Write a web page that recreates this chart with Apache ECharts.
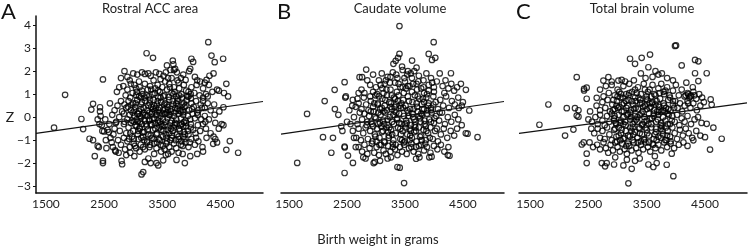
<!DOCTYPE html>
<html>
<head>
<meta charset="utf-8">
<script src="https://cdn.jsdelivr.net/npm/echarts@6/dist/echarts.min.js"></script>
<style>
  html, body { margin: 0; padding: 0; background: #fff; }
  #chart { width: 749px; height: 249px; }
</style>
</head>
<body>
<div id="chart"></div>
<script>
// panel texts
const panelLetters = ['A', 'B', 'C'];
const panelTitles = ['Rostral ACC area', 'Caudate volume', 'Total brain volume'];
const xTicks = [1500, 2500, 3500, 4500];
const yTicks = [-3, -2, -1, 0, 1, 2, 3, 4];

// birth weight (g), Z score
const rostralPoints = [
  [3230,2.78],[3340,2.58],[4290,3.26],[4345,2.68],[4400,2.39],[4545,2.54],[4000,2.54],[4030,2.4],[3680,2.46],[3690,2.3],[3580,2.25],
  [2850,2.0],[3000,1.9],[3070,1.85],[3150,1.95],[3200,1.88],[3260,1.9],[3300,1.8],[3390,1.95],[3450,1.88],[3520,1.8],[3600,1.7],[3640,2.05],
  [3700,2.05],[3720,2.1],[3750,1.95],[3820,1.7],[3900,1.62],[3960,2.0],[3980,2.1],[4100,1.6],[4150,1.55],[4230,1.5],[4260,1.62],[4380,1.9],
  [4440,1.2],[4310,1.8],[2480,1.64],[2940,1.6],[3100,1.55],[3350,1.6],[3550,1.55],[3780,1.5],[2790,1.7],[2900,1.75],
  [1830,0.97],[2720,1.1],[2760,1.3],[2830,1.35],[2900,1.2],[2960,1.45],[3020,1.4],[3060,1.1],[3110,1.3],[3160,1.0],[3200,1.45],[3250,1.2],
  [3290,1.35],[3330,1.0],[3380,1.25],[3420,1.4],[3460,1.1],[3500,1.3],[3540,0.95],[3580,1.2],[3620,1.45],[3660,1.05],[3700,1.3],[3740,0.9],
  [3790,1.25],[3830,1.0],[3870,1.4],[3910,1.15],[3950,0.9],[4000,1.3],[4050,1.05],[4090,1.4],[4140,0.95],[4200,1.25],[4250,1.0],[4300,1.4],
  [4360,1.1],[4470,1.15],[4560,1.05],[4600,1.45],[4630,0.9],[2950,0.85],[3130,0.85],[3270,0.9],[3430,0.85],[3610,0.88],[3770,0.8],[3990,0.82],
  [4200,0.85],[2870,0.95],[3050,0.95],
  [2280,0.33],[2310,0.58],[2430,0.43],[2430,0.25],[2600,0.6],[2680,0.3],[2730,0.5],[2790,0.7],[2810,0.25],[2850,0.55],[2880,0.4],[2920,0.7],
  [2960,0.3],[3000,0.6],[3030,0.45],[3070,0.75],[3100,0.25],[3140,0.55],[3180,0.4],[3210,0.7],[3240,0.3],[3280,0.6],[3310,0.45],[3350,0.75],
  [3380,0.25],[3410,0.55],[3450,0.4],[3480,0.65],[3510,0.3],[3550,0.6],[3590,0.45],[3620,0.75],[3650,0.25],[3690,0.55],[3720,0.4],[3760,0.7],
  [3800,0.3],[3840,0.55],[3880,0.45],[3920,0.75],[3960,0.3],[4000,0.6],[4040,0.45],[4080,0.7],[4120,0.3],[4160,0.55],[4200,0.7],[4230,0.4],
  [4280,0.6],[4330,0.3],[4390,0.55],[4550,0.43],[4480,0.25],[2990,0.2],[3330,0.22],[3570,0.2],[3860,0.22],[4100,0.2],
  [2110,-0.08],[2440,0.05],[2390,-0.1],[2520,-0.1],[2640,0.1],[2710,-0.2],[2760,0.0],[2840,0.15],[2900,-0.1],[2940,0.1],[2980,-0.15],[3020,0.05],
  [3060,-0.1],[3090,0.15],[3130,-0.05],[3170,0.1],[3200,-0.15],[3240,0.05],[3280,-0.1],[3320,0.15],[3360,-0.05],[3400,0.1],[3430,-0.15],[3470,0.05],
  [3510,-0.1],[3550,0.15],[3590,-0.05],[3630,0.1],[3660,-0.15],[3700,0.05],[3740,-0.1],[3780,0.15],[3820,-0.05],[3860,0.1],[3900,-0.15],[3940,0.05],
  [3980,-0.1],[4020,0.15],[4060,-0.05],[4110,0.1],[4170,-0.1],[4230,0.05],[4300,-0.1],[4400,0.1],[4520,-0.3],[4550,-0.35],[2850,-0.2],
  [1640,-0.46],[2140,-0.52],[2420,-0.3],[2460,-0.35],[2470,-0.6],[2500,-0.62],[2560,-0.55],[2580,-0.65],[2590,-0.3],[2660,-0.75],[2680,-0.5],
  [2770,-0.6],[2840,-0.3],[2880,-0.7],[2920,-0.45],[2960,-0.25],[3000,-0.6],[3040,-0.35],[3080,-0.75],[3110,-0.5],[3150,-0.3],[3190,-0.65],
  [3230,-0.4],[3260,-0.75],[3300,-0.3],[3340,-0.55],[3370,-0.25],[3410,-0.7],[3440,-0.45],[3480,-0.3],[3520,-0.6],[3560,-0.75],[3600,-0.4],
  [3640,-0.25],[3680,-0.6],[3710,-0.35],[3750,-0.75],[3790,-0.5],[3830,-0.3],[3870,-0.65],[3910,-0.4],[3950,-0.75],[3990,-0.3],[4030,-0.55],
  [4070,-0.7],[4110,-0.35],[4150,-0.6],[4200,-0.3],[4250,-0.5],[4330,-0.7],[4410,-0.25],[4470,-0.5],[2700,-0.25],[3120,-0.2],[3460,-0.2],[3870,-0.22],
  [2250,-0.94],[2310,-1.0],[2390,-1.25],[2410,-1.3],[2530,-1.0],[2540,-1.35],[2610,-0.9],[2630,-1.1],[2650,-1.3],[2740,-1.0],[2790,-1.2],[2840,-0.9],
  [2860,-1.4],[2900,-1.05],[2940,-1.3],[2980,-0.85],[3010,-1.15],[3050,-1.35],[3090,-0.95],[3130,-1.2],[3170,-0.85],[3200,-1.4],[3240,-1.05],
  [3280,-1.3],[3320,-0.9],[3360,-1.15],[3400,-1.35],[3440,-0.95],[3470,-1.2],[3510,-0.85],[3540,-1.4],[3580,-1.05],[3620,-1.3],[3660,-0.9],
  [3700,-1.15],[3740,-1.35],[3780,-0.95],[3820,-1.2],[3860,-0.85],[3900,-1.1],[3950,-1.3],[4000,-0.95],[4060,-1.2],[4120,-1.05],[4190,-1.3],
  [4260,-0.9],[4374,-1.16],[4410,-0.95],[4440,-1.1],[4600,-1.42],[4660,-1.04],[4380,-0.85],
  [2340,-1.7],[2480,-1.9],[2480,-2.0],[2690,-1.45],[2700,-1.5],[2750,-1.55],[2800,-1.9],[2810,-2.05],[2880,-1.65],[2950,-1.55],[3020,-1.7],
  [3110,-1.5],[3143,-2.49],[3172,-2.39],[3200,-1.95],[3260,-1.8],[3300,-2.0],[3360,-1.6],[3400,-2.0],[3430,-2.1],[3480,-1.5],[3515,-1.88],
  [3600,-1.6],[3660,-1.5],[3744,-1.86],[3780,-1.55],[3887,-2.0],[3850,-1.6],[3980,-1.7],[4100,-1.6],[4200,-1.5],[4803,-1.55],[3560,-1.65],
  [3020,0.3],[3060,-0.4],[3100,0.9],[3140,-0.9],[3180,0.2],[3220,-0.3],[3260,0.5],[3300,-0.8],[3340,0.35],[3380,-0.5],[3420,0.7],[3460,-1.0],
  [3500,0.15],[3540,-0.35],[3580,0.55],[3620,-0.7],[3660,0.35],[3700,-0.45],[3740,0.6],[3780,-0.85],[3820,0.25],[3860,-0.4],[3900,0.5],[3940,-0.6],
  [3040,0.6],[3080,-0.2],[3120,0.05],[3160,-0.65],[3200,0.85],[3240,-1.1],[3280,0.2],[3320,-0.35],[3360,0.5],[3400,-0.75],[3440,0.3],[3480,-0.55],
  [3520,0.9],[3560,-0.2],[3600,0.3],[3640,-1.0],[3680,0.7],[3720,-0.25],[3760,0.35],[3800,-0.6],[3840,0.85],[3880,-0.95],
  [3010,-0.95],[3150,1.15],[3290,-1.2],[3430,1.15],[3570,-1.15],[3710,1.1],[3850,-1.25],[3990,1.0],[4080,-0.9],[4180,0.4],[4240,-0.2],[4280,0.9],
  [2910,0.45],[2950,-0.7],[2990,1.05],[3030,-1.25],[3070,0.15],[3110,-0.45],[3150,0.65],[3190,-1.0],[3230,0.95],[3270,-0.15],[3310,1.2],[3350,-0.95],
  [3390,0.4],[3430,-0.25],[3470,0.85],[3510,-1.25],[3550,0.35],[3590,-0.55],[3630,1.3],[3670,-0.8],[3710,0.2],[3750,-0.3],[3790,0.95],[3830,-1.05],
  [3870,0.6],[3910,-0.25],[3950,1.1],[3990,-0.45],[2930,-0.95],[2970,0.55],[3010,-0.2],[3050,1.25],[3090,-0.6],[3130,0.35],[3170,-1.3],[3210,0.1],
  [3250,-0.55],[3290,0.75],[3330,-0.1],[3370,1.05],[3410,-1.1],[3450,0.2],[3490,-0.4],[3530,0.55],[3570,-0.9],[3610,0.1],[3650,-0.5],[3690,1.0],
  [3730,-1.0],[3770,0.5],[3810,-0.35],[3850,0.3],[3890,-0.75],[3930,0.9],[3970,-1.1],[4010,0.35],
  [3660,1.7],[3560,1.95],[3470,1.65],[3760,1.6],[3860,1.85],[4060,1.75]
];

const caudatePoints = [
  [1810,0.14],[1640,-1.99],[2085,-0.87],[2114,0.7],[2229,-1.55],[2257,-0.9],[2286,1.19],[2290,0.35],[2350,0.1],[2400,-0.4],[2420,-0.6],
  [2458,1.52],[2458,-1.28],[2460,-1.32],[2458,-2.43],[2470,0.85],[2480,0.9],[2500,-0.2],[2516,-1.67],[2540,0.3],[2560,-0.3],[2590,0.5],
  [2602,-1.99],[2620,-0.9],[2650,-1.3],[2680,0.8],[2716,1.74],[2760,1.74],[2831,2.07],[3301,2.32],[3340,2.45],[3405,2.75],[3380,2.58],
  [3405,3.96],[3623,2.46],[3550,2.0],[3910,2.75],[3967,2.49],[3996,3.26],[4024,2.58],[4294,1.91],[4466,1.45],[4552,1.19],[4581,-0.72],
  [4550,-0.7],[4610,0.29],[4753,-0.87],[3485,-2.87],[3370,-2.17],[3410,-2.2],[3692,-1.81],[3750,-1.75],[3920,-1.75],[3960,-1.72],
  [4240,-1.65],[4270,-1.68],[3070,-1.9],[2980,-1.95],[2960,-2.0],[2820,-1.8],[2780,-1.75],[3200,-1.8],[3260,-1.75],
  [2850,1.6],[2900,1.4],[2950,1.85],[3000,1.3],[3050,1.6],[3100,1.9],[3150,1.45],[3200,1.75],[3250,1.2],[3290,1.95],[3330,1.5],[3370,1.7],
  [3420,1.3],[3460,2.05],[3500,1.55],[3540,1.85],[3580,1.35],[3620,1.7],[3660,2.0],[3700,1.45],[3740,1.8],[3780,1.25],[3820,1.6],[3870,1.9],
  [3910,1.4],[3950,1.7],[4000,1.3],[4050,1.55],[4100,1.9],[4150,1.35],[4200,1.6],[4250,1.25],[4300,1.45],[4350,1.15],[4400,1.3],[2750,1.2],
  [2700,1.05],[2800,1.05],[3130,1.05],[3480,1.05],[3830,1.05],[4180,1.05],
  [2600,0.75],[2650,0.45],[2700,0.6],[2750,0.35],[2790,0.85],[2830,0.55],[2870,0.3],[2910,0.7],[2950,0.45],[2990,0.95],[3030,0.6],[3070,0.35],
  [3110,0.8],[3150,0.5],[3190,0.95],[3230,0.65],[3270,0.35],[3310,0.85],[3350,0.55],[3390,0.95],[3430,0.4],[3470,0.75],[3510,0.5],[3550,0.9],
  [3590,0.35],[3630,0.65],[3670,0.95],[3710,0.45],[3750,0.8],[3790,0.55],[3830,0.35],[3870,0.85],[3910,0.6],[3950,0.4],[3990,0.9],[4030,0.65],
  [4070,0.35],[4110,0.75],[4160,0.5],[4210,0.9],[4260,0.4],[4310,0.7],[4360,0.55],[4420,0.85],[4480,0.5],[4430,0.4],[4500,0.65],
  [2620,0.0],[2680,-0.3],[2720,0.2],[2760,-0.1],[2800,0.15],[2840,-0.35],[2880,0.05],[2920,-0.2],[2960,0.25],[3000,-0.05],[3040,-0.3],[3080,0.1],
  [3120,-0.15],[3160,0.2],[3200,-0.35],[3240,0.0],[3280,-0.2],[3320,0.25],[3360,-0.1],[3400,0.15],[3440,-0.3],[3480,0.05],[3520,-0.15],[3560,0.2],
  [3600,-0.35],[3640,0.0],[3680,-0.2],[3720,0.25],[3760,-0.05],[3800,0.1],[3840,-0.3],[3880,0.15],[3920,-0.1],[3960,0.2],[4000,-0.25],[4040,0.05],
  [4090,-0.15],[4140,0.2],[4190,-0.3],[4240,0.0],[4300,-0.2],[4360,0.1],[4420,-0.1],[4480,-0.35],
  [2600,-0.6],[2660,-0.9],[2700,-0.5],[2740,-1.0],[2780,-0.7],[2820,-0.45],[2860,-0.95],[2900,-0.6],[2940,-1.05],[2980,-0.75],[3020,-0.5],[3060,-0.9],
  [3100,-0.65],[3140,-1.05],[3180,-0.45],[3220,-0.8],[3260,-0.55],[3300,-1.0],[3340,-0.7],[3380,-0.45],[3420,-0.95],[3460,-0.6],[3500,-1.05],
  [3540,-0.75],[3580,-0.5],[3620,-0.9],[3660,-0.65],[3700,-1.05],[3740,-0.45],[3780,-0.8],[3820,-0.55],[3860,-1.0],[3900,-0.7],[3940,-0.45],
  [3980,-0.95],[4020,-0.6],[4070,-1.05],[4120,-0.75],[4170,-0.5],[4230,-0.9],[4290,-0.6],[4350,-0.8],[4400,-0.5],
  [2700,-1.3],[2760,-1.5],[2800,-1.2],[2850,-1.6],[2890,-1.35],[2930,-1.15],[2970,-1.55],[3010,-1.3],[3050,-1.65],[3090,-1.2],[3130,-1.45],
  [3170,-1.6],[3210,-1.25],[3250,-1.5],[3290,-1.15],[3330,-1.4],[3370,-1.65],[3410,-1.3],[3450,-1.5],[3490,-1.2],[3530,-1.6],[3570,-1.35],
  [3610,-1.15],[3650,-1.5],[3690,-1.3],[3730,-1.6],[3780,-1.2],[3830,-1.45],[3880,-1.3],[3940,-1.55],[4000,-1.25],[4060,-1.4],[4120,-1.2],
  [4180,-1.5],[4250,-1.3],
  [3020,1.0],[3060,-1.2],[3100,0.4],[3140,-0.3],[3180,1.2],[3220,-0.9],[3260,0.6],[3300,0.1],[3340,-1.2],[3380,0.7],[3420,-0.5],[3460,1.3],
  [3500,-0.3],[3540,0.3],[3580,-1.0],[3620,1.1],[3660,-0.1],[3700,0.6],[3740,-1.25],[3780,0.15],[3820,1.3],[3860,-0.4],[3900,0.5],
  [3040,0.2],[3080,1.4],[3120,-0.6],[3160,0.75],[3200,-0.1],[3240,1.5],[3280,-0.75],[3320,0.45],[3360,1.1],[3400,-0.25],[3440,0.6],[3480,-1.1],
  [3520,1.25],[3560,0.05],[3600,-0.6],[3640,1.45],[3680,-0.45],[3720,0.9],[3760,-0.85],[3800,0.35],[3840,-0.15],[3880,1.0],
  [2980,0.0],[2950,-0.4],[3950,0.3],[4000,1.1],[4050,-0.5],[4100,0.2],[2900,0.9],[2850,-0.2],
  [2910,0.25],[2950,1.1],[2990,-0.85],[3030,0.55],[3070,-0.25],[3110,1.25],[3150,-1.1],[3190,0.3],[3230,-0.45],[3270,0.95],[3310,-0.3],[3350,0.2],
  [3390,1.45],[3430,-0.75],[3470,0.4],[3510,-0.45],[3550,1.35],[3590,-0.8],[3630,0.15],[3670,-0.35],[3710,1.2],[3750,0.05],[3790,-1.0],[3830,0.65],
  [3870,-0.6],[3910,1.15],[3950,-0.2],[3990,0.55],[2930,-0.3],[2970,0.6],[3010,-1.05],[3050,0.9],[3090,-0.4],[3130,0.25],[3170,1.6],[3210,-0.65],
  [3250,0.45],[3290,-1.3],[3330,0.8],[3370,-0.05],[3410,0.5],[3450,-1.0],[3490,1.7],[3530,-0.25],[3570,0.7],[3610,-1.3],[3650,0.35],[3690,-0.6],
  [3730,1.55],[3770,-0.2],[3810,0.8],[3850,-1.15],[3890,0.3],[3930,-0.9],[3970,1.5],[4010,-0.05],
  [3350,1.85],[3450,2.2],[3600,1.9],[3700,2.15],[3250,1.75]
];

const brainPoints = [
  [1660,-0.33],[1814,0.55],[2100,-0.8],[2129,0.39],[2243,-0.54],[2270,0.39],[2330,0.3],[2300,1.74],[2426,1.16],[2471,1.28],[2426,1.23],
  [2471,0.8],[2529,0.25],[2300,0.07],[2330,0.02],[2386,-1.19],[2420,-1.1],[2471,-1.59],[2471,-2.0],[2500,-0.1],[2550,-0.5],[2643,0.84],
  [2757,1.59],[2843,1.74],[3014,1.59],[3071,1.62],[2729,-2.0],[2786,-2.14],[2814,-2.0],[2940,-2.06],[3100,-2.1],[3186,-2.88],[3243,-2.25],
  [3529,-2.06],[3614,-2.17],[3671,-2.0],[3843,-2.07],[3929,-1.59],[3957,-2.57],[4003,3.12],[3985,3.1],[3557,2.72],[3414,2.58],[3214,2.54],
  [3300,2.32],[3529,2.17],[4100,2.25],[4329,2.49],[4386,2.43],[4329,1.91],[4529,1.91],[4386,1.57],[4597,0.77],[4614,0.54],[4529,-0.29],
  [4643,-0.46],[4786,-0.94],[4586,-1.41],[4500,-0.87],[4300,-1.01],
  [2700,1.2],[2760,0.9],[2800,1.35],[2850,1.05],[2900,1.4],[2950,0.95],[3000,1.2],[3050,0.85],[3100,1.35],[3150,1.0],[3200,1.45],[3250,1.1],
  [3300,0.85],[3350,1.3],[3400,1.0],[3450,1.45],[3500,0.9],[3550,1.2],[3600,1.4],[3650,0.95],[3700,1.25],[3750,1.45],[3800,1.0],[3850,1.3],
  [3900,0.85],[3950,1.15],[4000,1.4],[4050,0.95],[4100,1.2],[4150,0.9],[4200,1.05],[4230,0.85],[4260,0.95],[4300,1.1],[4350,0.8],[4400,1.0],
  [4450,0.85],[3280,1.6],[3480,1.7],[3600,1.75],[3700,1.85],[3760,1.9],[3850,1.7],[3950,1.6],[4180,1.5],[3130,1.55],[2900,1.55],[3400,1.9],[3650,2.0],
  [2640,0.5],[2700,0.3],[2740,0.65],[2790,0.4],[2830,0.75],[2870,0.25],[2910,0.55],[2950,0.35],[2990,0.7],[3030,0.45],[3070,0.25],[3110,0.6],
  [3150,0.4],[3190,0.75],[3230,0.3],[3270,0.55],[3310,0.7],[3350,0.35],[3390,0.6],[3430,0.25],[3470,0.5],[3510,0.75],[3550,0.4],[3590,0.6],
  [3630,0.3],[3670,0.7],[3710,0.45],[3750,0.25],[3790,0.6],[3830,0.4],[3870,0.75],[3910,0.3],[3950,0.55],[3990,0.7],[4030,0.4],[4070,0.6],
  [4110,0.25],[4150,0.5],[4200,0.7],[4250,0.4],[4300,0.6],[4360,0.3],[4420,0.5],[4480,0.65],
  [2560,-0.2],[2620,0.0],[2660,-0.3],[2700,0.1],[2740,-0.15],[2780,-0.35],[2820,0.05],[2860,-0.2],[2900,0.15],[2940,-0.05],[2980,-0.3],[3020,0.1],
  [3060,-0.15],[3100,0.0],[3140,-0.35],[3180,0.15],[3220,-0.1],[3260,-0.3],[3300,0.05],[3340,-0.2],[3380,0.1],[3420,-0.35],[3460,0.0],[3500,-0.15],
  [3540,0.15],[3580,-0.3],[3620,0.05],[3660,-0.2],[3700,0.1],[3740,-0.35],[3780,0.0],[3820,-0.15],[3860,0.15],[3900,-0.3],[3940,0.05],[3980,-0.2],
  [4020,0.1],[4060,-0.35],[4100,-0.05],[4150,-0.2],[4200,0.05],[4260,-0.3],[4320,-0.1],[4380,0.0],[4440,-0.25],
  [2600,-0.7],[2660,-0.5],[2700,-0.9],[2740,-0.6],[2780,-0.95],[2820,-0.45],[2860,-0.75],[2900,-1.0],[2940,-0.55],[2980,-0.85],[3020,-0.45],
  [3060,-0.7],[3100,-0.95],[3140,-0.6],[3180,-0.8],[3220,-0.45],[3260,-1.0],[3300,-0.65],[3340,-0.9],[3380,-0.5],[3420,-0.75],[3460,-1.0],
  [3500,-0.55],[3540,-0.8],[3580,-0.45],[3620,-0.95],[3660,-0.65],[3700,-0.85],[3740,-0.5],[3780,-0.75],[3820,-1.0],[3860,-0.6],[3900,-0.85],
  [3940,-0.45],[3980,-0.7],[4020,-0.95],[4070,-0.55],[4120,-0.8],[4170,-0.5],[4220,-0.7],[4280,-0.9],[4350,-0.6],[4420,-0.8],
  [2650,-1.2],[2700,-1.4],[2760,-1.1],[2800,-1.35],[2840,-1.55],[2880,-1.2],[2920,-1.45],[2960,-1.1],[3000,-1.3],[3040,-1.5],[3080,-1.15],
  [3120,-1.4],[3160,-1.6],[3200,-1.25],[3240,-1.45],[3280,-1.1],[3320,-1.35],[3360,-1.55],[3400,-1.2],[3440,-1.4],[3480,-1.1],[3520,-1.3],
  [3560,-1.5],[3600,-1.15],[3650,-1.35],[3700,-1.2],[3750,-1.45],[3800,-1.1],[3850,-1.3],[3910,-1.15],[3970,-1.35],[4050,-1.2],[4130,-1.1],
  [4200,-1.25],[2580,-1.3],[2520,-1.1],[3380,-1.8],[3160,-1.85],[2960,-1.75],[3640,-1.7],[3300,-1.9],
  [2920,0.3],[2960,-0.5],[3000,0.9],[3040,-0.25],[3080,0.55],[3120,-0.9],[3160,0.1],[3200,1.05],[3240,-0.6],[3280,0.35],[3320,-0.1],[3360,0.85],
  [3400,-1.05],[3440,0.45],[3480,-0.45],[3520,1.1],[3560,-0.05],[3600,0.65],[3640,-0.75],[3680,0.25],[3720,1.05],[3760,-0.4],[3800,0.5],[3840,-1.0],
  [3880,0.1],[2940,-0.15],[2980,0.5],[3020,-0.8],[3060,1.0],[3100,-0.3],[3140,0.7],[3180,-1.15],[3220,0.2],[3260,-0.45],[3300,1.2],[3340,0.0],
  [3380,-0.7],[3420,0.6],[3460,-0.2],[3500,0.35],[3540,-1.1],[3580,0.9],[3620,0.15],[3660,-0.5],[3700,0.55],[3740,-0.9],[3780,0.3],[3820,1.15],
  [3860,-0.3],[4170,0.95],[4210,1.0],[4250,0.9],[4210,0.6],[4290,1.3],[4320,0.95],
  [2930,0.75],[2970,-0.25],[3010,0.4],[3050,-1.0],[3090,0.85],[3130,-0.2],[3170,0.5],[3210,-0.85],[3250,0.7],[3290,-0.2],[3330,1.05],[3370,-0.45],
  [3410,0.15],[3450,-0.95],[3490,0.8],[3530,-0.3],[3570,0.45],[3610,-1.2],[3650,0.55],[3690,-0.1],[3730,0.8],[3770,-0.6],[3810,0.25],[3850,-0.8],
  [3890,0.95],[3930,-0.15],[3970,0.4],[2950,0.05],[2990,-1.05],[3030,1.1],[3070,-0.55],[3110,0.25],[3150,-1.25],[3190,0.95],[3230,0.0],[3270,-0.75],
  [3310,0.4],[3350,-1.1],[3390,0.75],[3430,-0.3],[3470,1.2],[3510,-0.7],[3550,0.6],[3590,-0.05],[3630,1.0],[3670,-1.0],[3710,0.3],[3750,-0.25],
  [3790,1.1],[3830,-0.45],[3870,0.35],[3910,-1.05],[3950,0.7]
];

// fitted lines, end points
const rostralFit = [[1330, -0.71], [5230, 0.68]];
const caudateFit = [[1360, -0.74], [5210, 0.68]];
const brainFit = [[1310, -0.71], [5220, 0.62]];

const xRanges = [[1330, 5230], [1360, 5210], [1310, 5220]];
const gridLefts = [36, 281, 519];
const gridWidths = [227, 223, 228];

const font = 'Lato, "Liberation Sans", sans-serif';
const chart = echarts.init(document.getElementById('chart'));

const grids = gridLefts.map((l, i) => ({ left: l, width: gridWidths[i], top: 16, height: 177 }));

const xAxes = xRanges.map((r, i) => ({
  type: 'value',
  gridIndex: i,
  min: r[0],
  max: r[1],
  axisLine: { show: true, onZero: false, lineStyle: { color: '#111', width: 1.5 } },
  axisTick: { show: false },
  splitLine: { show: false },
  axisLabel: {
    customValues: xTicks,
    color: '#222',
    fontSize: 12,
    fontFamily: font,
    margin: 5,
    formatter: v => String(v)
  }
}));

const yAxes = [0, 1, 2].map(i => ({
  type: 'value',
  gridIndex: i,
  min: -3.3,
  max: 4.4,
  show: i === 0,
  axisLine: { show: true, onZero: false, lineStyle: { color: '#111', width: 1.5 } },
  axisTick: { show: true, customValues: yTicks, length: 3, lineStyle: { color: '#111' } },
  splitLine: { show: false },
  axisLabel: {
    customValues: yTicks,
    color: '#222',
    fontSize: 12,
    fontFamily: font,
    margin: 5,
    formatter: v => (v < 0 ? '\u2212' + Math.abs(v) : String(v))
  }
}));

const pointSets = [rostralPoints, caudatePoints, brainPoints];
const fits = [rostralFit, caudateFit, brainFit];

const series = [];
pointSets.forEach((pts, i) => {
  series.push({
    type: 'scatter',
    xAxisIndex: i,
    yAxisIndex: i,
    data: pts,
    symbol: 'circle',
    symbolSize: 5.5,
    itemStyle: { color: 'rgba(255,255,255,0)', borderColor: '#000', borderWidth: 1.2 }
  });
  series.push({
    type: 'line',
    xAxisIndex: i,
    yAxisIndex: i,
    data: fits[i],
    symbol: 'none',
    lineStyle: { color: '#111', width: 1.2 },
    z: 3
  });
});

const letterX = [1, 277, 516];
const titleX = [150, 400, 642];
const graphics = [];
panelLetters.forEach((t, i) => {
  graphics.push({
    type: 'text', left: letterX[i], top: 1,
    style: { text: t, font: '22px ' + font, fill: '#111' }
  });
  graphics.push({
    type: 'text', x: titleX[i], y: 9,
    style: { text: panelTitles[i], font: '13px ' + font, fill: '#222', textAlign: 'center', textVerticalAlign: 'middle' }
  });
});
graphics.push({
  type: 'text', x: 10, y: 117,
  style: { text: 'Z', font: '14px ' + font, fill: '#222', textAlign: 'center', textVerticalAlign: 'middle' }
});
graphics.push({
  type: 'text', x: 378, y: 240,
  style: { text: 'Birth weight in grams', font: '13px ' + font, fill: '#222', textAlign: 'center', textVerticalAlign: 'middle' }
});

chart.setOption({
  animation: false,
  grid: grids,
  xAxis: xAxes,
  yAxis: yAxes,
  series: series,
  graphic: graphics
});
</script>
</body>
</html>
